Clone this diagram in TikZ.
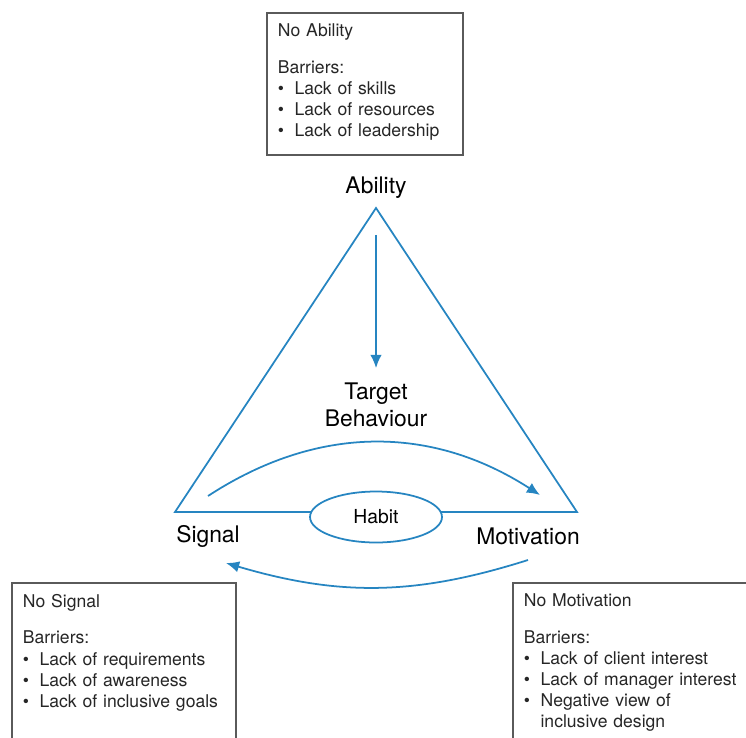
\documentclass[tikz,border=0pt]{standalone}
\usepackage{fontspec}
\setmainfont{TeX Gyre Heros}
\usetikzlibrary{shapes.geometric,arrows.meta}
\definecolor{tribl}{RGB}{38,133,193}
\definecolor{boxgray}{RGB}{90,90,90}
\newcommand{\barrier}[1]{\makebox[0.95em][l]{\textbullet}#1}

\begin{document}
\begin{tikzpicture}[x=0.02cm,y=-0.02cm]

	\tikzstyle{edge}=[draw=tribl,line width=1pt]
	\tikzstyle{flow}=[edge,-{Latex[length=7.5pt,width=6.5pt]}]
	\tikzstyle{corner}=[font=\fontsize{13}{15}\selectfont,
		align=center]
	\tikzstyle{barriers}=[anchor=north west,inner sep=6pt,
		align=left,text width=5.5cm,
		font=\fontsize{10}{12}\selectfont,text=black!85]
	\tikzstyle{frame}=[draw=boxgray,line width=0.6pt]

	\clip (0,0) rectangle (746,737);

	% triangle
	\coordinate	(top)	at (376,208);
	\coordinate	(left)	at (175,512);
	\coordinate	(right)	at (577,512);
	\draw[edge]	(top) -- (right) -- (left) -- cycle;

	\node[corner]	(ability)	at (376,188)	{Ability};
	\node[corner]	(signal)	at (208,536)	{Signal};
	\node[corner]	(motivation)	at (528,536)	{Motivation};
	\node[corner]	(target)	at (376,405)	{Target\\Behaviour};
	\node[ellipse,edge,fill=white,minimum width=2.64cm,minimum height=1.02cm,
		font=\fontsize{11}{13}\selectfont]	(habit)	at (376,517)	{Habit};

	% arrows
	\draw[flow,shorten <=0.54cm,shorten >=0.18cm]	(top) -- (target);
	\coordinate	(upL)	at (208,496);
	\coordinate	(upR)	at (540,495);
	\draw[flow]	(upL) to[bend left=33] (upR);
	\coordinate	(loR)	at (528,560);
	\coordinate	(loL)	at (226,563);
	\draw[flow]	(loR) to[bend left=17] (loL);

	% barrier boxes
	\node[barriers]	(noability)	at (267,13)	{No Ability\\[9pt]Barriers:\\
		\barrier{Lack of skills}\\ \barrier{Lack of resources}\\
		\barrier{Lack of leadership}};
	\draw[frame]	(noability.north west) rectangle ++(196,142);

	\node[barriers]	(nosignal)	at (12,583)	{No Signal\\[9pt]Barriers:\\
		\barrier{Lack of requirements}\\ \barrier{Lack of awareness}\\
		\barrier{Lack of inclusive goals}};
	\draw[frame]	(nosignal.north west) rectangle ++(224,200);

	\node[barriers]	(nomotivation)	at (513,583)	{No Motivation\\[9pt]Barriers:\\
		\barrier{Lack of client interest}\\ \barrier{Lack of manager interest}\\
		\barrier{Negative view of}\\ \hspace*{0.95em}inclusive design};
	\draw[frame]	(nomotivation.north west) rectangle ++(260,200);

\end{tikzpicture}
\end{document}
